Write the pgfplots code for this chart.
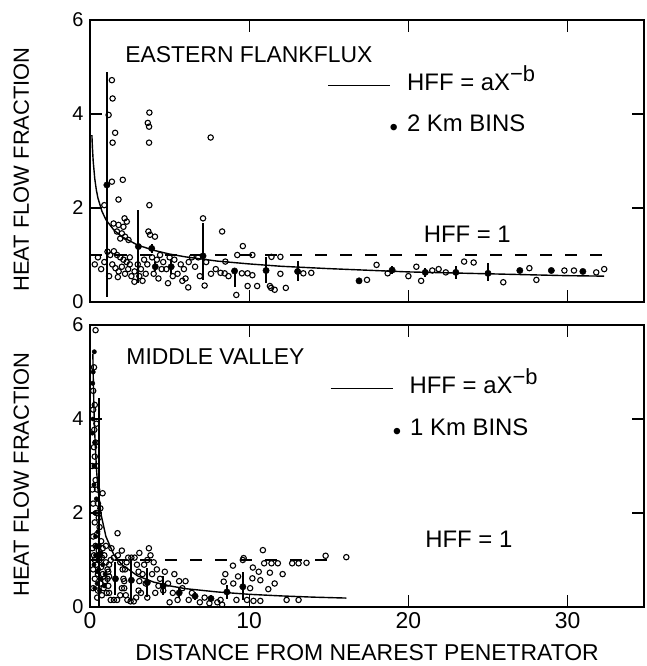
\documentclass[border=0pt]{standalone}
\usepackage{fontspec}
\setmainfont{Liberation Sans}
\usepackage{pgfplots}
\pgfplotsset{compat=1.18}

\newcommand{\fs}[1]{\fontsize{#1}{#1}\selectfont}

\pgfplotsset{
  hffpanel/.style={
    scale only axis, width=554bp, height=282bp,
    xmin=0, xmax=34.8, ymin=0, ymax=6,
    xtick={0,10,20,30}, ytick={0,2,4,6},
    tick align=inside, tick pos=both, major tick length=12bp,
    every tick/.style={black, line width=1.2bp},
    axis line style={line width=1.5bp},
    /pgf/number format/assume math mode=true,
    yticklabel style={font=\fs{20}, xshift=-3bp},
    xticklabel style={font=\fs{23}, yshift=-2bp},
    ylabel={HEAT FLOW FRACTION},
    ylabel style={font=\fs{22}, at={(axis description cs:-0.124,0.47)}, anchor=center},
    clip=false,
  },
  opencirc/.style={only marks, mark=o, mark size=2.7bp, mark options={line width=1.1bp, fill=white}},
  bins/.style={only marks, mark=*, mark size=3.2bp,
    error bars/.cd, y dir=both, y explicit,
    error bar style={line width=2bp}, error mark=none},
  fitcurve/.style={line width=1.4bp, no marks},
  hffone/.style={line width=1.3bp, no marks, dash pattern=on 12bp off 13bp},
}

\begin{document}
\begin{tikzpicture}
\path[use as bounding box] (0,0) rectangle (647bp,666bp);

% ---------------- Eastern Flankflux ----------------
\begin{axis}[hffpanel, at={(90bp,364bp)}, anchor=south west, xticklabels={}]
\addplot[hffone] coordinates {(0,1) (32.5,1)};
\addplot[fitcurve] coordinates {
  (0.12,3.55)(0.15,3.30)(0.2,3.00)(0.3,2.62)(0.4,2.38)(0.5,2.21)(0.75,1.93)
  (1,1.75)(1.5,1.53)(2,1.39)(3,1.21)(4,1.10)(5,1.02)(6,0.96)(8,0.87)
  (10,0.81)(12,0.76)(15,0.71)(20,0.64)(25,0.60)(30,0.56)(32.3,0.55)};
\addplot[opencirc] coordinates {
  (1.375,4.72)(1.42,4.33)(1.17,3.98)(1.58,3.60)(1.42,3.39)
  (3.73,4.03)(3.63,3.81)(3.71,3.73)(3.71,3.39)(7.58,3.50)
  (2.06,2.60)(1.375,2.56)(1.79,2.18)(3.73,2.06)(0.90,2.06)(2.17,1.78)
  (1.48,1.67)(1.79,1.64)(2.1,1.60)(2.31,1.71)(1.69,1.50)(2.0,1.46)(1.9,1.35)
  (2.2,1.39)(2.42,1.32)(3.67,1.50)(3.77,1.43)(4.08,1.39)(7.1,1.78)(8.3,1.50)(9.6,1.19)
  (0.5,0.95)(0.9,0.85)(1.1,1.07)(1.27,1.0)(1.5,1.08)(1.7,1.0)(1.9,0.95)(2.1,0.9)
  (2.3,0.85)(2.5,0.95)(1.4,0.8)(1.6,0.72)(1.8,0.65)(2.0,0.75)(2.2,0.6)(2.4,0.7)
  (2.6,0.55)(2.8,0.65)(3.0,0.8)(3.2,0.7)(3.4,0.9)(3.5,0.6)(3.6,0.8)(3.9,0.95)
  (4.2,0.9)(4.4,1.0)(4.6,0.85)(4.8,0.7)(5.0,0.95)(5.3,0.9)(5.5,0.6)(5.7,0.8)
  (6.0,0.5)(6.2,0.85)(6.4,0.95)(6.6,0.75)(6.9,0.55)(7.3,0.85)(7.6,0.6)(7.9,0.7)
  (8.2,0.62)(8.46,0.61)(8.7,0.55)(9.54,0.61)(9.9,0.61)(10.2,0.57)(0.3,0.8)(0.7,0.7)
  (1.75,0.53)(2.79,0.43)(3.3,0.45)(4.3,0.5)(4.9,0.4)(5.8,0.45)(6.17,0.31)(7.2,0.35)
  (9.9,0.34)(10.5,0.34)(9.19,0.15)(11.375,0.30)(11.6,0.26)(12.3,0.30)(11.3,0.34)
  (11.96,0.60)(13.4,0.61)(13.9,0.62)(9.25,1.0)(10.2,1.0)(11.4,0.96)(11.96,0.96)(8.5,0.86)
  (1.2,0.55)(2.5,0.8)(3.1,0.55)(4.0,0.6)(4.5,0.7)(5.2,0.55)(5.9,0.7)(6.8,0.95)
  (17.4,0.47)(18.0,0.79)(18.7,0.61)(20.0,0.55)(20.5,0.75)(20.8,0.45)(21.5,0.67)
  (21.9,0.70)(22.35,0.63)(23.5,0.86)(24.1,0.84)(25.96,0.42)(27.6,0.72)(28.04,0.47)
  (29.8,0.67)(30.4,0.67)(31.8,0.63)(32.3,0.70)};
\addplot[bins] coordinates {
  (1.06,2.49) += (0,2.41) -= (0,2.39)
  (3.04,1.18) += (0,0.78) -= (0,0.78)
  (3.875,1.14) += (0,0.1) -= (0,0.1)
  (4.1,0.75) += (0,0.1) -= (0,0.1)
  (5.1,0.75) += (0,0.15) -= (0,0.15)
  (7.1,0.98) += (0,0.70) -= (0,0.51)
  (9.08,0.66) += (0,0.05) -= (0,0.35)
  (11.06,0.67) += (0,0.28) -= (0,0.27)
  (13.04,0.65) += (0,0.22) -= (0,0.20)
  (16.9,0.45) += (0,0.03) -= (0,0.03)
  (18.98,0.68) += (0,0.08) -= (0,0.08)
  (21.06,0.63) += (0,0.10) -= (0,0.10)
  (22.98,0.63) += (0,0.14) -= (0,0.14)
  (25.0,0.61) += (0,0.22) -= (0,0.17)
  (27.0,0.67) += (0,0.05) -= (0,0.05)
  (28.98,0.67) += (0,0.05) -= (0,0.05)
  (30.96,0.65) += (0,0.03) -= (0,0.03)};
\node[anchor=base west, font=\fs{23}] at (axis cs:2.0,5.09) {EASTERN FLANKFLUX};
\node[anchor=base west, font=\fs{24}, inner sep=0pt] at (axis cs:14.95,4.51)
  {\rule[4bp]{62bp}{1.4bp}\hspace{17bp}HFF = aX\raisebox{9bp}{\fs{22}−b}};
\node[anchor=base west, font=\fs{24}, inner sep=0pt] at (axis cs:19.9,3.62)
  {\llap{\raisebox{-4bp}{\textbullet}\hspace{9bp}}2 Km BINS};
\node[anchor=base, font=\fs{24}, inner sep=0pt] at (axis cs:23.7,1.26) {HFF = 1};
\end{axis}

% ---------------- Middle Valley ----------------
\begin{axis}[hffpanel, at={(90bp,59bp)}, anchor=south west,
  xlabel={DISTANCE FROM NEAREST PENETRATOR},
  xlabel style={font=\fs{23}, at={(axis description cs:0.5,-0.163)}, anchor=center}]
\addplot[hffone] coordinates {(0,1) (15,1)};
\addplot[fitcurve] coordinates {
  (0.18,5.38)(0.2,4.97)(0.25,4.21)(0.3,3.68)(0.4,2.97)(0.5,2.51)(0.7,1.96)
  (1,1.5)(1.5,1.11)(2,0.90)(3,0.66)(4,0.53)(5,0.45)(6,0.39)(8,0.32)
  (10,0.27)(12,0.236)(14,0.21)(16.1,0.19)};
\addplot[opencirc] coordinates {
  (0.35,5.89)(0.25,5.1)(0.2,4.6)(0.3,4.3)(0.27,3.77)(0.35,3.5)(0.3,3.2)(0.4,3.0)
  (0.35,2.7)(0.45,2.5)(0.79,2.42)(0.5,2.2)(0.4,2.0)(0.3,1.8)(0.6,1.7)(0.2,1.5)
  (0.45,1.55)(0.7,1.4)(0.35,1.3)(0.55,1.2)(0.8,1.25)(0.25,1.1)(0.6,1.0)(0.9,1.1)
  (0.4,0.9)(0.7,0.85)(1.0,0.95)(0.5,0.7)(0.8,0.7)(1.1,0.8)(0.3,0.6)(0.65,0.5)
  (0.95,0.55)(1.2,0.65)(0.5,0.35)(0.85,0.4)(1.73,1.57)(0.2,0.8)(0.15,2.5)(0.15,3.0)
  (0.2,4.2)(0.25,3.4)(0.4,3.9)(0.2,2.2)(0.55,1.9)(0.3,1.0)(0.75,1.05)(1.0,1.3)
  (0.2,0.4)(0.45,0.2)(0.75,0.25)(1.05,0.3)(1.35,1.25)(0.15,1.25)(0.65,2.1)
  (1.1,0.6)(1.2,0.9)(1.5,1.05)(1.9,0.95)(2.1,0.6)(1.9,0.25)(1.5,0.15)(1.2,0.3)
  (1.15,0.75)(1.3,1.0)(1.75,1.1)(2.05,0.8)(2.0,0.4)(1.7,0.15)(1.3,0.15)(1.15,0.45)
  (2.15,0.55)(2.3,0.95)(2.6,1.05)(2.95,0.9)(3.1,0.55)(2.9,0.2)(2.55,0.12)(2.25,0.25)
  (2.2,0.8)(2.4,1.05)(2.8,1.05)(3.05,0.75)(3.05,0.35)(2.75,0.12)(2.35,0.15)(2.15,0.4)
  (3.4,0.9)(3.6,1.0)(3.8,1.1)(3.2,0.3)(3.6,0.2)(3.9,0.7)(4.2,0.8)(4.4,0.6)(4.1,0.3)
  (4.6,0.35)(4.9,0.5)(5.2,0.3)(5.0,0.1)(5.5,0.15)(5.8,0.4)(6.2,0.15)(6.4,0.3)
  (6.9,0.1)(7.2,0.2)(7.5,0.08)(8.0,0.1)(8.3,0.05)(2.0,1.2)(3.1,1.15)(3.7,1.25)
  (4.0,0.95)(5.3,0.7)(6.0,0.55)(5.6,0.55)(3.3,0.7)(3.5,0.5)(4.3,0.45)(4.7,0.75)
  (10.86,1.21)(8.98,0.88)(9.65,1.04)(10.23,0.84)(10.94,0.93)(11.4,0.93)(11.8,0.93)
  (10.6,0.75)(11.3,0.73)(12.1,0.70)(10.7,0.57)(11.6,0.5)(12.7,0.93)(13.1,0.93)
  (13.6,0.94)(14.8,1.09)(16.1,1.06)(8.4,0.54)(9.0,0.5)(10.2,0.61)(10.06,0.4)
  (11.2,0.38)(9.2,0.15)(9.86,0.15)(10.27,0.13)(10.7,0.13)(8.2,0.15)(12.35,0.15)
  (13.1,0.15)(9.6,1.0)(8.5,0.7)(9.3,0.65)};
\addplot[only marks, mark=*, mark size=2.2bp] coordinates {
  (0.27,5.43)(0.17,4.76)(0.2,4.0)(0.25,3.0)(0.3,2.0)(0.35,1.5)(0.4,1.3)(0.5,1.0)
  (0.3,3.5)(0.4,2.3)(0.55,0.8)(0.7,0.6)(0.45,0.5)(0.9,0.45)(0.6,1.3)
  (0.2,5.0)(0.15,3.7)(0.25,2.6)(0.35,1.1)(0.45,0.75)(0.6,0.35)(0.8,0.9)(0.3,0.4)
  (0.5,1.6)(0.7,1.15)(0.95,0.7)(0.25,0.9)};
\addplot[bins] coordinates {
  (0.58,1.10) += (0,3.35) -= (0,1.10)
  (1.6,0.60) += (0,0.35) -= (0,0.35)
  (2.6,0.57) += (0,0.45) -= (0,0.45)
  (3.6,0.52) += (0,0.30) -= (0,0.30)
  (4.6,0.45) += (0,0.20) -= (0,0.20)
  (5.6,0.30) += (0,0.10) -= (0,0.10)
  (6.6,0.23) += (0,0.08) -= (0,0.08)
  (7.6,0.18) += (0,0.08) -= (0,0.08)
  (8.6,0.32) += (0,0.15) -= (0,0.15)
  (9.6,0.43) += (0,0.32) -= (0,0.28)};
\node[anchor=base west, font=\fs{23}] at (axis cs:2.07,5.15) {MIDDLE VALLEY};
\node[anchor=base west, font=\fs{24}, inner sep=0pt] at (axis cs:15.1,4.55)
  {\rule[4bp]{62bp}{1.4bp}\hspace{17bp}HFF = aX\raisebox{9bp}{\fs{22}−b}};
\node[anchor=base west, font=\fs{24}, inner sep=0pt] at (axis cs:20.1,3.64)
  {\llap{\raisebox{-4bp}{\textbullet}\hspace{9bp}}1 Km BINS};
\node[anchor=base, font=\fs{24}, inner sep=0pt] at (axis cs:23.8,1.26) {HFF = 1};
\end{axis}
\end{tikzpicture}
\end{document}
